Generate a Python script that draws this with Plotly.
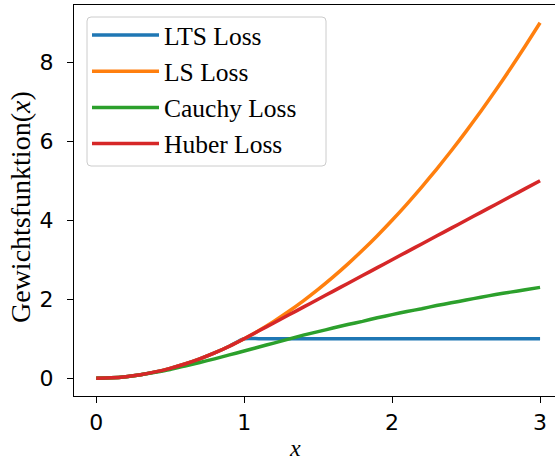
import plotly.graph_objects as go

# x sample points
x_vals = [0.0, 0.1, 0.2, 0.3, 0.4, 0.5, 0.6, 0.7, 0.8, 0.9, 1.0,
          1.1, 1.2, 1.3, 1.4, 1.5, 1.6, 1.7, 1.8, 1.9, 2.0,
          2.1, 2.2, 2.3, 2.4, 2.5, 2.6, 2.7, 2.8, 2.9, 3.0]

lts_loss = [0.0, 0.01, 0.04, 0.09, 0.16, 0.25, 0.36, 0.49, 0.64, 0.81, 1.0,
            1.0, 1.0, 1.0, 1.0, 1.0, 1.0, 1.0, 1.0, 1.0, 1.0,
            1.0, 1.0, 1.0, 1.0, 1.0, 1.0, 1.0, 1.0, 1.0, 1.0]

ls_loss = [0.0, 0.01, 0.04, 0.09, 0.16, 0.25, 0.36, 0.49, 0.64, 0.81, 1.0,
           1.21, 1.44, 1.69, 1.96, 2.25, 2.56, 2.89, 3.24, 3.61, 4.0,
           4.41, 4.84, 5.29, 5.76, 6.25, 6.76, 7.29, 7.84, 8.41, 9.0]

cauchy_loss = [0.0, 0.01, 0.04, 0.09, 0.15, 0.22, 0.31, 0.40, 0.49, 0.59, 0.69,
               0.79, 0.89, 0.99, 1.09, 1.18, 1.27, 1.36, 1.44, 1.53, 1.61,
               1.69, 1.76, 1.84, 1.91, 1.98, 2.05, 2.12, 2.18, 2.24, 2.30]

huber_loss = [0.0, 0.01, 0.04, 0.09, 0.16, 0.25, 0.36, 0.49, 0.64, 0.81, 1.0,
              1.2, 1.4, 1.6, 1.8, 2.0, 2.2, 2.4, 2.6, 2.8, 3.0,
              3.2, 3.4, 3.6, 3.8, 4.0, 4.2, 4.4, 4.6, 4.8, 5.0]

series_names = ["LTS Loss", "LS Loss", "Cauchy Loss", "Huber Loss"]
series_values = [lts_loss, ls_loss, cauchy_loss, huber_loss]
series_colors = ["#1f77b4", "#ff7f0e", "#2ca02c", "#d62728"]

x_ticks = [0, 1, 2, 3]
y_ticks = [0, 2, 4, 6, 8]

fig = go.Figure()
for name, vals, col in zip(series_names, series_values, series_colors):
    fig.add_trace(go.Scatter(
        x=x_vals, y=vals, mode="lines", name=name, legendgroup=name,
        line=dict(color=col, width=3.5, shape="spline", smoothing=0.6),
    ))

tick_font = dict(family="DejaVu Sans", size=22, color="black")

# plot area in pixels: left 74, right 555, top 5, bottom 396
PW, PH = 481, 391


def px_x(p):
    return (p - 74) / PW


def px_y(p):
    return 1 - (p - 5) / PH


# rounded legend frame (matplotlib style)
bx0, bx1, by0, by1 = px_x(87), px_x(326), px_y(166), px_y(17)
rx, ry = 4 / PW, 4 / PH
frame_path = (
    f"M {bx0 + rx},{by1} L {bx1 - rx},{by1} Q {bx1},{by1} {bx1},{by1 - ry} "
    f"L {bx1},{by0 + ry} Q {bx1},{by0} {bx1 - rx},{by0} "
    f"L {bx0 + rx},{by0} Q {bx0},{by0} {bx0},{by0 + ry} "
    f"L {bx0},{by1 - ry} Q {bx0},{by1} {bx0 + rx},{by1} Z"
)

fig.update_layout(
    width=555, height=462,
    margin=dict(l=74, r=0, t=5, b=66),
    paper_bgcolor="white", plot_bgcolor="white",
    showlegend=True,
    legend=dict(
        x=px_x(87), y=px_y(12), xanchor="left", yanchor="top",
        font=dict(family="Liberation Serif", size=25.5, color="black"),
        bgcolor="rgba(0,0,0,0)", borderwidth=0,
        itemwidth=67, tracegroupgap=0, traceorder="grouped",
    ),
    shapes=[
        dict(type="path", path=frame_path, xref="paper", yref="paper",
             fillcolor="rgba(255,255,255,0.8)", line=dict(color="#cccccc", width=1),
             layer="above"),
    ],
    xaxis=dict(
        range=[-0.15, 3.101], tickvals=x_ticks, ticktext=[str(v) for v in x_ticks],
        showgrid=False, zeroline=False,
        showline=True, linecolor="black", linewidth=1.4, mirror=True,
        ticks="outside", ticklen=6, tickwidth=1.4, tickcolor="black",
        tickfont=tick_font,
    ),
    yaxis=dict(
        range=[-0.45, 9.45], tickvals=y_ticks, ticktext=[str(v) for v in y_ticks],
        showgrid=False, zeroline=False,
        showline=True, linecolor="black", linewidth=1.4,
        ticks="outside", ticklen=6, tickwidth=1.4, tickcolor="black",
        tickfont=tick_font, ticklabelstandoff=9,
    ),
    annotations=[
        dict(text="<i>x</i>", xref="paper", yref="paper",
             x=px_x(295), y=px_y(448), xanchor="center", yanchor="middle",
             showarrow=False, font=dict(family="Liberation Serif", size=24, color="black")),
        dict(text="Gewichtsfunktion(<i>x</i>)", xref="paper", yref="paper",
             x=px_x(20), y=px_y(207), xanchor="center", yanchor="middle",
             textangle=-90, showarrow=False,
             font=dict(family="Liberation Serif", size=28, color="black")),
    ],
)

fig.write_html("out.html", config={"displayModeBar": False},
               post_script="document.body.style.margin='0';")
